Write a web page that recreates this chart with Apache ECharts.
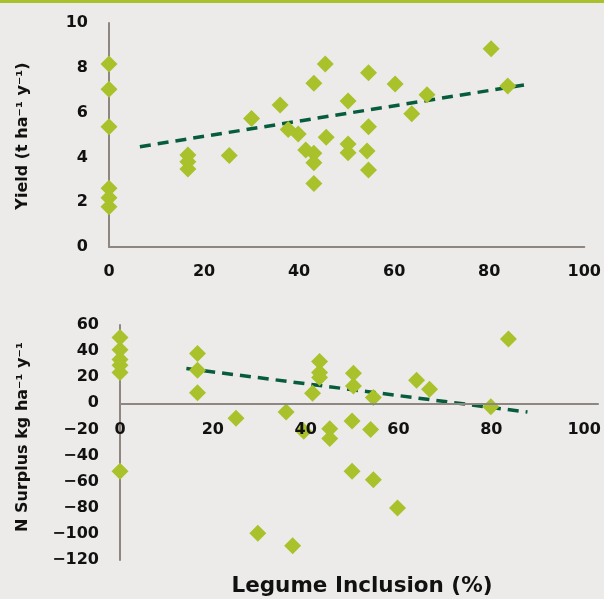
<!DOCTYPE html>
<html>
<head>
<meta charset="utf-8">
<script src="https://cdn.jsdelivr.net/npm/echarts@6/dist/echarts.min.js"></script>
<style>
html,body{margin:0;padding:0;background:#ECEBE9;}
#c{width:604px;height:599px;}
</style>
</head>
<body>
<div id="c"></div>
<script>
// Top panel: yield vs legume inclusion
const yieldX = [0,0,0,0,0,0,16.6,16.6,16.6,25.3,30.0,36.0,37.7,39.8,41.4,43.1,43.1,43.1,43.1,45.5,45.7,50.3,50.3,50.3,54.6,54.6,54.3,54.6,60.2,63.7,66.9,80.4,83.9];
const yieldY = [8.17,7.04,5.37,2.62,2.20,1.80,4.11,3.81,3.48,4.08,5.74,6.34,5.25,5.04,4.33,4.18,3.76,2.84,7.31,8.17,4.90,6.52,4.60,4.21,7.78,5.37,4.29,3.44,7.28,5.95,6.80,8.85,7.19];
const yieldTrendX = [6.5, 88.6];
const yieldTrendY = [4.48, 7.28];

// Bottom panel: N surplus vs legume inclusion
const surplusX = [0,0,0,0,0,0,16.7,16.7,16.7,25.0,29.7,35.8,37.2,39.6,41.5,43.0,43.0,43.0,45.2,45.2,50.3,50.3,50.0,50.0,54.0,54.6,54.6,59.8,63.9,66.7,79.9,83.7];
const surplusY = [50.5,41.0,33.5,29.2,23.6,-52.0,38.2,25.4,8.2,-11.5,-99.5,-6.7,-109,-21.3,7.7,32.1,23.6,19.8,-19.5,-26.9,23.1,13.3,-13.6,-52.0,-20.0,4.4,-58.5,-80.2,17.7,10.8,-2.6,49.2];
const surplusTrendX = [14.3, 87.8];
const surplusTrendY = [26.7, -6.7];

const xTicks = [0,20,40,60,80,100];
const yieldTitle = 'Yield (t ha\u207B\u00B9 y\u207B\u00B9)';
const surplusTitle = 'N Surplus kg ha\u207B\u00B9 y\u207B\u00B9';
const xTitle = 'Legume Inclusion (%)';

const zip = (a, b) => a.map((v, i) => [v, b[i]]);

const FONT = '"DejaVu Sans"';
const AXIS = '#8E8680';
const GREEN = '#A9C22B';
const DARK = '#075C3D';
const lbl = {color:'#111', fontFamily:FONT, fontWeight:'bold', fontSize:16};

const chart = echarts.init(document.getElementById('c'));
chart.setOption({
  backgroundColor:'#ECEBE9',
  animation:false,
  grid:[
    {left:109, right:17, top:23, height:224},
    {left:120, right:6, top:325, height:235}
  ],
  xAxis:[
    {gridIndex:0, type:'value', min:0, max:100, interval:20, z:5,
     axisLine:{show:true, lineStyle:{color:AXIS, width:2}}, axisTick:{show:false},
     splitLine:{show:false}, axisLabel:Object.assign({margin:17}, lbl)},
    {gridIndex:1, type:'value', min:0, max:103, interval:20, offset:-156, z:5,
     axisLine:{show:true, onZero:false, lineStyle:{color:AXIS, width:2}}, axisTick:{show:false},
     splitLine:{show:false},
     axisLabel:Object.assign({margin:18, showMaxLabel:false,
       formatter:v => (xTicks.indexOf(v) >= 0 ? String(v) : '')}, lbl)}
  ],
  yAxis:[
    {gridIndex:0, type:'value', min:0, max:10, interval:2,
     axisLine:{show:true, lineStyle:{color:AXIS, width:2}}, axisTick:{show:false},
     splitLine:{show:false}, axisLabel:Object.assign({margin:21}, lbl)},
    {gridIndex:1, type:'value', min:-120, max:60, interval:20,
     axisLine:{show:true, onZero:false, lineStyle:{color:AXIS, width:2}}, axisTick:{show:false},
     splitLine:{show:false},
     axisLabel:Object.assign({margin:21, formatter:v => String(v).replace('-', '\u2212')}, lbl)}
  ],
  series:[
    {type:'line', xAxisIndex:0, yAxisIndex:0, data:zip(yieldTrendX, yieldTrendY),
     symbol:'none', z:1, lineStyle:{color:DARK, width:3.5, type:[11,7]}},
    {type:'scatter', xAxisIndex:0, yAxisIndex:0, data:zip(yieldX, yieldY),
     symbol:'diamond', symbolSize:[17,17], z:2, itemStyle:{color:GREEN, opacity:1}},
    {type:'line', xAxisIndex:1, yAxisIndex:1, data:zip(surplusTrendX, surplusTrendY),
     symbol:'none', z:1, lineStyle:{color:DARK, width:3.5, type:[11,7]}},
    {type:'scatter', xAxisIndex:1, yAxisIndex:1, data:zip(surplusX, surplusY),
     symbol:'diamond', symbolSize:[17,17], z:2, itemStyle:{color:GREEN, opacity:1}}
  ],
  graphic:[
    {type:'rect', left:0, top:0, shape:{width:604, height:3}, style:{fill:'#A9C12D'}, silent:true},
    {type:'text', x:23, y:136, rotation:Math.PI/2,
     style:{text:yieldTitle, fill:'#111', font:'bold 16px ' + FONT, align:'center', verticalAlign:'middle'}},
    {type:'text', x:23, y:437, rotation:Math.PI/2,
     style:{text:surplusTitle, fill:'#111', font:'bold 16px ' + FONT, align:'center', verticalAlign:'middle'}},
    {type:'text', x:362, y:586,
     style:{text:xTitle, fill:'#111', font:'bold 21.5px ' + FONT, align:'center', verticalAlign:'middle'}}
  ]
});
</script>
</body>
</html>
